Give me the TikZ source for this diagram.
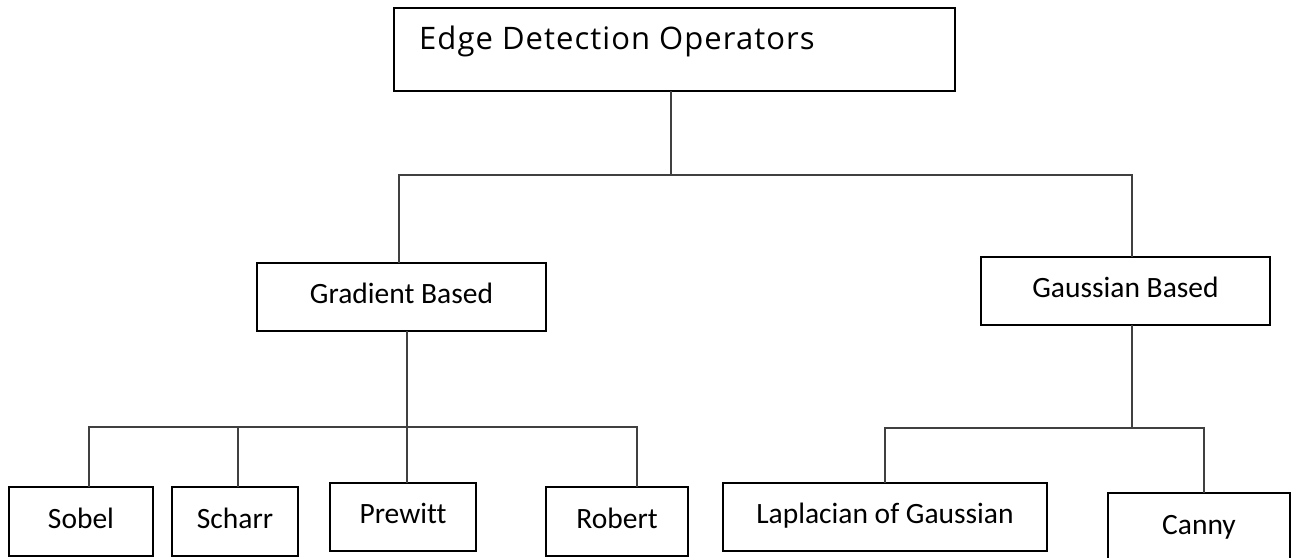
\documentclass[tikz,border=0pt]{standalone}
\usepackage{fontspec}
\setmainfont[Ligatures={NoCommon}]{Carlito}
\newfontfamily\headfont[LetterSpace=3.4]{Open Sans}
\begin{document}
\begin{tikzpicture}[x=1pt, y=-1pt,
  opbox/.style={draw=black, line width=2.4pt, inner sep=0pt, outer sep=0pt,
    font=\fontsize{29.5}{32}\selectfont, text height=20.6pt, text depth=7.4pt},
  conn/.style={draw=black!75, line width=1.3pt}]
  \useasboundingbox[fill=white] (0,0) rectangle (1292,557);

  % root
  \node[opbox, minimum width=561pt, minimum height=83pt] (root) at (674.5,49.5) {};
  \node[anchor=base west, inner sep=0pt, font=\headfont\fontsize{31}{34}\selectfont]
    (rootlabel) at (419,49) {Edge Detection Operators};

  % second level
  \node[opbox, minimum width=289pt, minimum height=68pt] (grad) at (401.5,297) {Gradient Based};
  \node[opbox, minimum width=289pt, minimum height=68pt] (gauss) at (1125.5,291) {Gaussian Based};

  % leaves
  \node[opbox, minimum width=144pt, minimum height=69pt] (sobel) at (81,521.5) {Sobel};
  \node[opbox, minimum width=126pt, minimum height=69pt] (scharr) at (235,521.5) {Scharr};
  \node[opbox, minimum width=146pt, minimum height=68pt] (prewitt) at (403,517) {Prewitt};
  \node[opbox, minimum width=142pt, minimum height=69pt] (robert) at (617,521.5) {Robert};
  \node[opbox, minimum width=324pt, minimum height=68pt] (lap) at (885,517) {Laplacian of Gaussian};
  \node[opbox, minimum width=182pt, minimum height=69pt] (canny) at (1199,527.5) {Canny};

  % bus junctions
  \coordinate (j0) at (671,175);
  \coordinate (b0l) at (399,175);
  \coordinate (b0r) at (1132,175);
  \coordinate (j1) at (407,427);
  \coordinate (b1l) at (89,427);
  \coordinate (b1s) at (238,427);
  \coordinate (b1r) at (637,427);
  \coordinate (j2) at (1132,428);
  \coordinate (b2l) at (885,428);
  \coordinate (b2r) at (1204,428);

  % root to second level
  \draw[conn] (j0 |- root.south) -- (j0);
  \draw[conn] (b0l |- grad.north) -- (b0l) -- (b0r) -- (b0r |- gauss.north);

  % gradient based family
  \draw[conn] (j1 |- grad.south) -- (j1 |- prewitt.north);
  \draw[conn] (b1l |- sobel.north) -- (b1l) -- (b1r) -- (b1r |- robert.north);
  \draw[conn] (b1s) -- (b1s |- scharr.north);

  % gaussian based family
  \draw[conn] (j2 |- gauss.south) -- (j2);
  \draw[conn] (b2l |- lap.north) -- (b2l) -- (b2r) -- (b2r |- canny.north);
\end{tikzpicture}
\end{document}
